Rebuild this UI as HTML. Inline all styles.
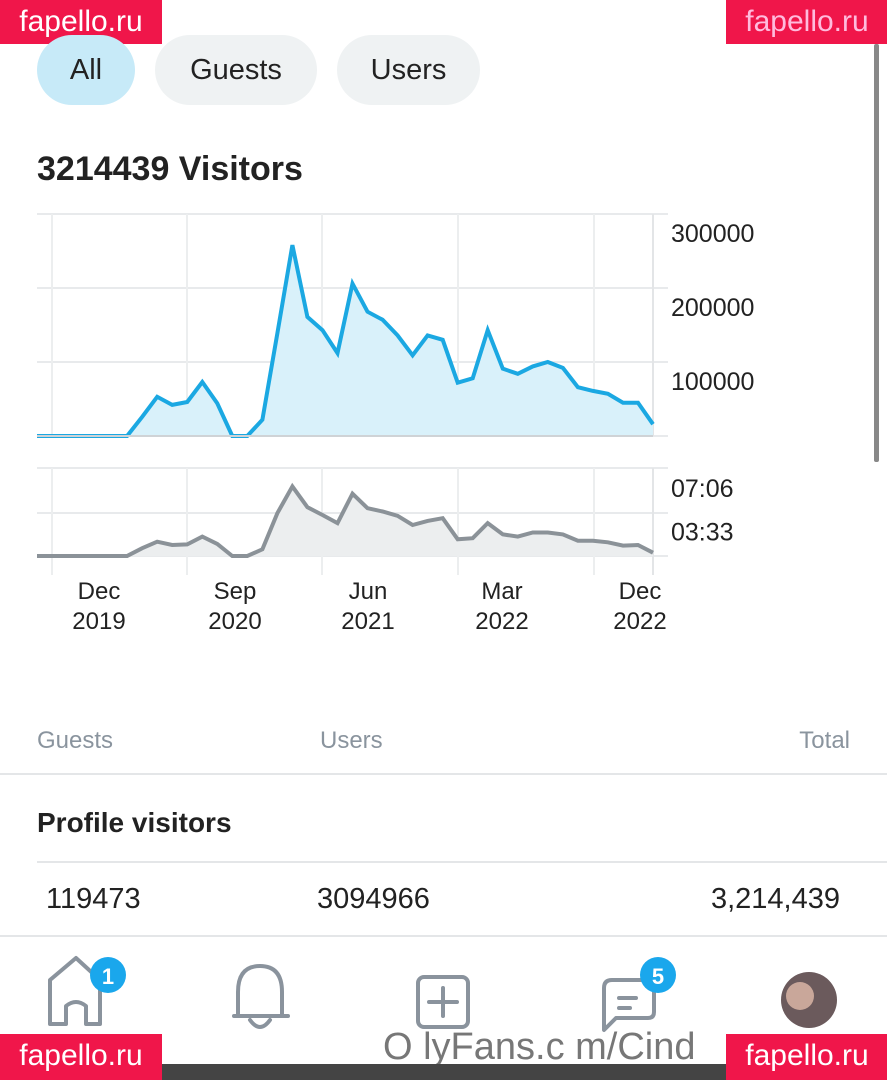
<!DOCTYPE html>
<html><head><meta charset="utf-8">
<style>
html,body{margin:0;padding:0;width:887px;height:1080px;overflow:hidden;background:#fff;font-family:"Liberation Sans",sans-serif;}
.abs{position:absolute;white-space:nowrap;}
.pill{position:absolute;top:35px;height:70px;border-radius:35px;background:#eff2f3;color:#222;font-size:29px;line-height:70px;text-align:center;}
.wm{position:absolute;background:#f0164a;color:#fff;font-size:30px;line-height:44px;height:44px;width:162px;text-align:center;}
.hr{position:absolute;height:2px;background:#e4e6e8;}
</style></head><body>
<div class="wm" style="left:0;top:0">fapello.ru</div>
<div class="wm" style="left:726px;top:0;color:#fbd">fapello.ru</div>
<div class="pill" style="left:37px;width:98px;background:#c7eaf8;">All</div>
<div class="pill" style="left:155px;width:162px;">Guests</div>
<div class="pill" style="left:337px;width:143px;">Users</div>
<div class="abs" style="left:37px;top:150px;font-size:34px;font-weight:bold;color:#222;">3214439 Visitors</div>
<div class="abs" style="left:874px;top:44px;width:5px;height:418px;background:#888;border-radius:2px;"></div>

<svg id="chart" class="abs" style="left:0;top:200px" width="887" height="450"></svg>

<div class="abs" style="left:37px;top:727px;font-size:24px;color:#8a949e;">Guests</div>
<div class="abs" style="left:320px;top:727px;font-size:24px;color:#8a949e;">Users</div>
<div class="abs" style="right:37px;top:727px;font-size:24px;color:#8a949e;">Total</div>
<div class="hr" style="left:0;width:887px;top:773px;"></div>
<div class="abs" style="left:37px;top:807px;font-size:28px;font-weight:bold;color:#222;">Profile visitors</div>
<div class="hr" style="left:37px;width:850px;top:861px;"></div>
<div class="abs" style="left:46px;top:883px;font-size:29px;color:#222;">119473</div>
<div class="abs" style="left:317px;top:883px;font-size:29px;color:#222;">3094966</div>
<div class="abs" style="right:47px;top:883px;font-size:29px;color:#222;">3,214,439</div>
<div class="hr" style="left:0;width:887px;top:935px;"></div>

<svg class="abs" style="left:0;top:950px" width="887" height="90">
 <g fill="none" stroke="#8a939d" stroke-width="4" stroke-linejoin="round">
  <path d="M50 30 L76 8 L100 30 L100 74 L86 74 L86 56 Q76 48 66 56 L66 74 L50 74 Z"/>
 </g>
 <circle cx="108" cy="25" r="18" fill="#1aa7ec"/>
 <text x="108" y="34" text-anchor="middle" fill="#fff" font-size="22" font-weight="bold" font-family="Liberation Sans">1</text>
 <g fill="none" stroke="#8a939d" stroke-width="4" stroke-linecap="round">
  <path d="M238 64 L238 42 Q238 16 260 16 Q282 16 282 42 L282 64"/><path d="M234 66 L288 66"/><path d="M250 70 Q260 84 270 70"/>
 </g>
 <g fill="none" stroke="#8a939d" stroke-width="4" stroke-linecap="round">
  <rect x="418" y="27" width="50" height="50" rx="6"/><path d="M443 38 L443 66 M429 52 L457 52"/>
 </g>
 <g fill="none" stroke="#8a939d" stroke-width="4" stroke-linecap="round" stroke-linejoin="round">
  <path d="M612 30 L648 30 Q654 30 654 36 L654 62 Q654 68 648 68 L616 68 L604 80 L604 38 Q604 30 612 30 Z"/><path d="M619 48 L636 48 M619 58 L630 58"/>
 </g>
 <circle cx="658" cy="25" r="18" fill="#1aa7ec"/>
 <text x="658" y="34" text-anchor="middle" fill="#fff" font-size="22" font-weight="bold" font-family="Liberation Sans">5</text>
 <circle cx="809" cy="50" r="28" fill="#6b5a5c"/>
 <circle cx="800" cy="46" r="14" fill="#c9a79a"/>
</svg>
<div class="abs" style="left:383px;top:1026px;font-size:38px;color:#777;">O lyFans.c m/Cind</div>
<div class="abs" style="left:0;top:1064px;width:887px;height:16px;background:#444;"></div>
<div class="wm" style="left:0;top:1034px;height:46px;">fapello.ru</div>
<div class="wm" style="left:726px;top:1034px;height:46px;">fapello.ru</div>

<script>
const visitors=[0,0,0,0,0,0,0,26000,53000,42000,46000,73000,44000,0,0,22000,139000,258000,161000,143000,112000,206000,168000,157000,136000,109000,136000,130000,72000,78000,143000,91000,84000,94000,100000,92000,66000,61000,57000,45000,45000,16000];
const durationSec=[0,0,0,0,0,0,0,38,70,54,57,95,59,0,0,33,210,341,239,201,161,305,234,218,197,152,172,185,82,87,161,106,95,115,115,106,75,75,67,51,54,16];
const visitorTicks=[100000,200000,300000];
const visitorTickLabels=["100000","200000","300000"];
const durTicks=[213,426];
const durTickLabels=["03:33","07:06"];
const xTickMonth=["Dec","Sep","Jun","Mar","Dec"];
const xTickYear=["2019","2020","2021","2022","2022"];

const svg=document.getElementById('chart');
const NS='http://www.w3.org/2000/svg';
const X0=37,X1=653;
const xs=i=>X0+i*(X1-X0)/(visitors.length-1);
const yV=v=>236-v*74/100000;
const yD=v=>356-v*43.5/213;
function el(t,a){const e=document.createElementNS(NS,t);for(const k in a)e.setAttribute(k,a[k]);svg.appendChild(e);return e;}
[14,88,162,236].forEach(y=>{const l=el('line',{x1:37,x2:668,y1:y,y2:y,stroke:'#e8eaec','stroke-width':2});

});
[268,313,356].forEach(y=>{const l=el('line',{x1:37,x2:668,y1:y,y2:y,stroke:'#e8eaec','stroke-width':2});

});
[52,187,322,458,594].forEach(x=>{const l=el('line',{x1:x,x2:x,y1:14,y2:236,stroke:'#eceeef','stroke-width':2});


const l2=el('line',{x1:x,x2:x,y1:268,y2:375,stroke:'#eceeef','stroke-width':2});

});
[[14,236],[268,375]].forEach(r=>{const l=el('line',{x1:653,x2:653,y1:r[0],y2:r[1],stroke:'#e3e5e7','stroke-width':2});

});
function series(vals,yf,base,stroke,fill,name){
 const pts=vals.map((v,i)=>xs(i).toFixed(1)+','+yf(v).toFixed(1)).join(' ');
 const a=el('polygon',{points:X0+','+base+' '+pts+' '+X1+','+base,fill:fill});
 
 
 const p=el('polyline',{points:pts,fill:'none',stroke:stroke,'stroke-width':4,'stroke-linejoin':'miter'});
 
 
}
series(visitors,yV,236,'#1ba8e2','#d9f1fa','visitors');
series(durationSec,yD,356,'#8b9298','#eceeef','duration');
const bl=el('line',{x1:37,x2:653,y1:236,y2:236,stroke:'#cfd3d6','stroke-width':2});


visitorTicks.forEach((v,i)=>{const t=el('text',{x:671,y:yV(v)+28,'font-size':25,fill:'#222','font-family':'Liberation Sans'});t.textContent=visitorTickLabels[i];

});
durTicks.forEach((v,i)=>{const t=el('text',{x:671,y:yD(v)+28,'font-size':25,fill:'#222','font-family':'Liberation Sans'});t.textContent=durTickLabels[i];

});
[99,235,368,502,640].forEach((x,i)=>{
const t=el('text',{x:x,y:399,'text-anchor':'middle','font-size':24,fill:'#222','font-family':'Liberation Sans'});t.textContent=xTickMonth[i];


const t2=el('text',{x:x,y:429,'text-anchor':'middle','font-size':24,fill:'#222','font-family':'Liberation Sans'});t2.textContent=xTickYear[i];

});
</script>
</body></html>
